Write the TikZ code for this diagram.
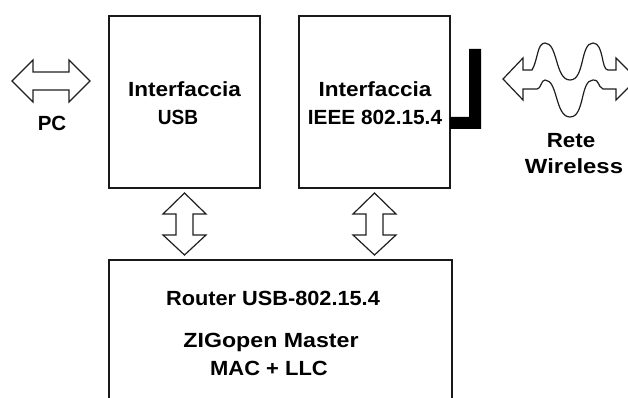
\documentclass[tikz,border=0pt]{standalone}
\usepackage{fontspec}
\setmainfont{Liberation Sans}
\tikzset{
  x=1pt,y=-1pt,
  blockbox/.style={draw=black!90,line width=1.6pt,minimum width=#1,inner sep=0pt},
  lab/.style={font=\fontsize{20.5}{24}\selectfont\bfseries,anchor=base,inner sep=0pt,text=black},
  flow/.style={draw=black!88,line width=1.2pt,line join=miter,fill=white},
  antenna/.style={fill=black,draw=none}
}
\begin{document}
\begin{tikzpicture}
\useasboundingbox (0,0) rectangle (628,398);
\clip (0,0) rectangle (628,398);
% blocks
\node[blockbox=151pt,minimum height=172pt] (usb) at (184.5,102) {};
\node[blockbox=151pt,minimum height=172pt] (ieee) at (374.5,102) {};
\node[blockbox=343pt,minimum height=200pt] (router) at (280.5,360) {};
% antenna
\fill[antenna] (450,129) -- (481,129) -- (481,49) -- (469,49) -- (469,117) -- (450,117) -- cycle;
% PC arrow
\draw[flow] (12,81) -- (33,60) -- (33,72) -- (69,72) -- (69,60) -- (90,81) -- (69,102) -- (69,90) -- (33,90) -- (33,102) -- cycle;
% vertical arrows
\draw[flow] (184.5,193) -- (206,214) -- (193,214) -- (193,235) -- (206,235) -- (184.5,255) -- (163,235) -- (176,235) -- (176,214) -- (163,214) -- cycle;
\draw[flow] (374.5,193) -- (396,214) -- (383,214) -- (383,235) -- (396,235) -- (374.5,255) -- (353,235) -- (366,235) -- (366,214) -- (353,214) -- cycle;
% wireless arrow
\draw[flow] (503,79) -- (523,58) -- (523,70) -- (532,70)
  .. controls (538,60) and (537,43) .. (545,43)
  .. controls (558,43) and (555,80) .. (570,80)
  .. controls (585,80) and (580,43) .. (593,43)
  .. controls (604,43) and (601,70) .. (608,70)
  -- (616,70) -- (616,58) -- (637,79) -- (616,100) -- (616,89) -- (603,89)
  .. controls (597,86) and (600,80) .. (593,80)
  .. controls (580,80) and (585,117) .. (570,117)
  .. controls (555,117) and (558,80) .. (545,80)
  .. controls (541,80) and (541,89) .. (537,89)
  -- (523,89) -- (523,100) -- cycle;
% labels
\node[lab] (t1) at (184.5,97) {\scalebox{1.1}[1]{Interfaccia}};
\node[lab] (t2) at (178,125) {\scalebox{0.93}[1]{USB}};
\node[lab] (t3) at (375,97) {\scalebox{1.1}[1]{Interfaccia}};
\node[lab] (t4) at (375,125) {\scalebox{1.015}[1]{IEEE 802.15.4}};
\node[lab] (t5) at (52,131) {PC};
\node[lab] (t6) at (571,147) {\scalebox{1.09}[1]{Rete}};
\node[lab] (t7) at (574,173) {\scalebox{1.165}[1]{Wireless}};
\node[lab] (t8) at (273,305) {\scalebox{1.06}[1]{Router USB-802.15.4}};
\node[lab] (t9) at (271,347) {\scalebox{1.13}[1]{ZIGopen Master}};
\node[lab] (t10) at (269,375) {\scalebox{1.07}[1]{MAC + LLC}};
\end{tikzpicture}
\end{document}
